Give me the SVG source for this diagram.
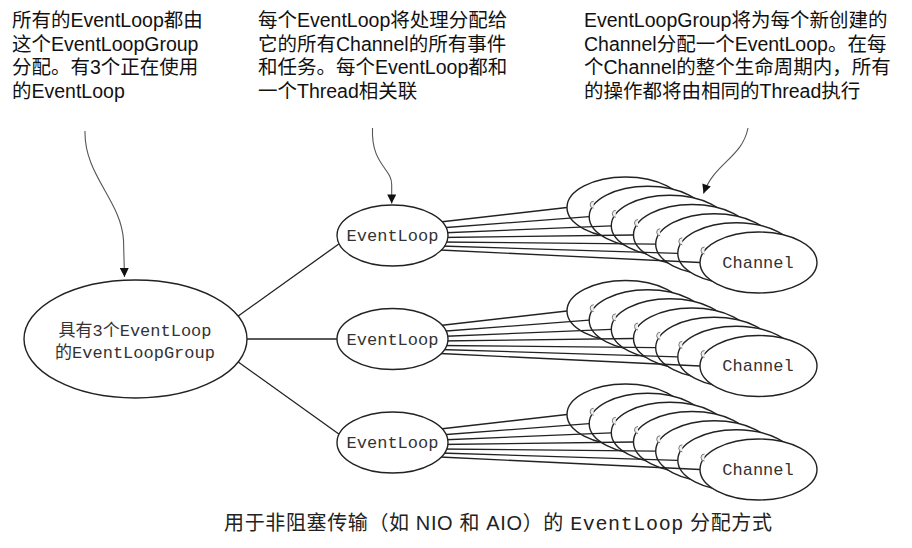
<svg xmlns="http://www.w3.org/2000/svg" width="912" height="548" viewBox="0 0 912 548">
<defs>
<style>
.txt{font-family:"Liberation Sans","Noto Sans CJK SC",sans-serif;font-size:19.5px;fill:#111}
.lbl{font-family:"Liberation Mono","Noto Sans CJK SC",monospace;font-size:17px;fill:#333}
.cap{font-family:"Liberation Sans","Noto Sans CJK SC",sans-serif;font-size:20px;fill:#222}
.capm{font-family:"Liberation Mono",monospace;font-size:20px;fill:#222}
.node{fill:#fff;stroke:#222;stroke-width:1.4}
.edge{stroke:#222;stroke-width:1.3;fill:none}
.call{stroke:#555;stroke-width:1.1;fill:none;marker-end:url(#ah)}
.bump{stroke:#777;stroke-width:1;fill:#eee}
</style>
<marker id="ah" viewBox="0 0 10 10" refX="10" refY="5" markerWidth="10" markerHeight="9" markerUnits="userSpaceOnUse" orient="auto"><path d="M0,0 L10,5 L0,10 z" fill="#111"/></marker>
<g id="stack">
<ellipse class="node" cx="625.5" cy="207.5" rx="58.5" ry="30.5"/>
<ellipse class="node" cx="647.7" cy="216.7" rx="58.5" ry="30.5"/>
<path class="bump" d="M593.7,208.2 A3.5,3.5 0 0 1 593.7,201.2"/>
<ellipse class="node" cx="669.8" cy="225.8" rx="58.5" ry="30.5"/>
<path class="bump" d="M615.8,217.3 A3.5,3.5 0 0 1 615.8,210.3"/>
<ellipse class="node" cx="692.0" cy="235.0" rx="58.5" ry="30.5"/>
<path class="bump" d="M638,226.5 A3.5,3.5 0 0 1 638,219.5"/>
<ellipse class="node" cx="714.2" cy="244.2" rx="58.5" ry="30.5"/>
<path class="bump" d="M660.2,235.7 A3.5,3.5 0 0 1 660.2,228.7"/>
<ellipse class="node" cx="736.3" cy="253.3" rx="58.5" ry="30.5"/>
<path class="bump" d="M682.3,244.8 A3.5,3.5 0 0 1 682.3,237.8"/>
<ellipse class="node" cx="758.5" cy="262.5" rx="58.5" ry="30.5"/>
<path class="bump" d="M704.5,254 A3.5,3.5 0 0 1 704.5,247"/>
<text class="lbl" x="758" y="267.5" text-anchor="middle">Channel</text>
</g>
<g id="fan">
<line x1="440" y1="222" x2="567.0" y2="207.5"/>
<line x1="440" y1="228" x2="589.2" y2="216.7"/>
<line x1="440" y1="233" x2="611.3" y2="225.8"/>
<line x1="440" y1="237.5" x2="633.5" y2="235.0"/>
<line x1="440" y1="242" x2="655.7" y2="244.2"/>
<line x1="440" y1="246" x2="677.8" y2="253.3"/>
<line x1="440" y1="250" x2="700.0" y2="262.5"/>
</g>
</defs>
<rect width="912" height="548" fill="#fff"/>

<g id="note-left" class="txt">
<text x="12" y="27">所有的EventLoop都由</text>
<text x="12" y="50.7">这个EventLoopGroup</text>
<text x="12" y="74.3">分配。有3个正在使用</text>
<text x="12" y="98">的EventLoop</text>
</g>
<g id="note-middle" class="txt">
<text x="258" y="27">每个EventLoop将处理分配给</text>
<text x="258" y="50.7">它的所有Channel的所有事件</text>
<text x="258" y="74.3">和任务。每个EventLoop都和</text>
<text x="258" y="98">一个Thread相关联</text>
</g>
<g id="note-right" class="txt">
<text x="584" y="27">EventLoopGroup将为每个新创建的</text>
<text x="584" y="50.7">Channel分配一个EventLoop。在每</text>
<text x="584" y="74.3">个Channel的整个生命周期内，所有</text>
<text x="584" y="98">的操作都将由相同的Thread执行</text>
</g>

<g id="channels-1"><use href="#stack"/></g>
<g id="channels-2"><use href="#stack" y="103.5"/></g>
<g id="channels-3"><use href="#stack" y="207"/></g>

<g id="connectors">
<g class="edge">
<use href="#fan"/>
<use href="#fan" y="103.5"/>
<use href="#fan" y="207"/>
<line x1="225" y1="325.5" x2="339.5" y2="243.5"/>
<line x1="230" y1="339" x2="338" y2="339"/>
<line x1="225" y1="352.5" x2="339.5" y2="434.5"/>
</g>
<path class="call" d="M85,131 C84,175 121,200 123.5,240 L124.5,277"/>
<path class="call" d="M372.5,128 C371,165 392,168 391.7,185 L391.7,203.5"/>
<path class="call" d="M748,128 C742,158 715,162 703.5,193.5"/>
</g>

<g id="eventloop-1">
<ellipse class="node" cx="392.5" cy="235.5" rx="55.5" ry="30.5"/>
<text class="lbl" x="392.5" y="241" text-anchor="middle">EventLoop</text>
</g>
<g id="eventloop-2">
<ellipse class="node" cx="392.5" cy="339" rx="55.5" ry="30.5"/>
<text class="lbl" x="392.5" y="344.5" text-anchor="middle">EventLoop</text>
</g>
<g id="eventloop-3">
<ellipse class="node" cx="392.5" cy="442.5" rx="55.5" ry="30.5"/>
<text class="lbl" x="392.5" y="448" text-anchor="middle">EventLoop</text>
</g>

<g id="eventloopgroup">
<ellipse class="node" cx="135.5" cy="339" rx="111.5" ry="59"/>
<text class="lbl" x="135" y="335.5" text-anchor="middle">具有3个EventLoop</text>
<text class="lbl" x="135" y="357.5" text-anchor="middle">的EventLoopGroup</text>
</g>

<g id="caption">
<text x="224" y="530" textLength="548" lengthAdjust="spacing"><tspan class="cap">用于非阻塞传输（如 NIO 和 AIO）的 </tspan><tspan class="capm">EventLoop</tspan><tspan class="cap"> 分配方式</tspan></text>
</g>
</svg>
